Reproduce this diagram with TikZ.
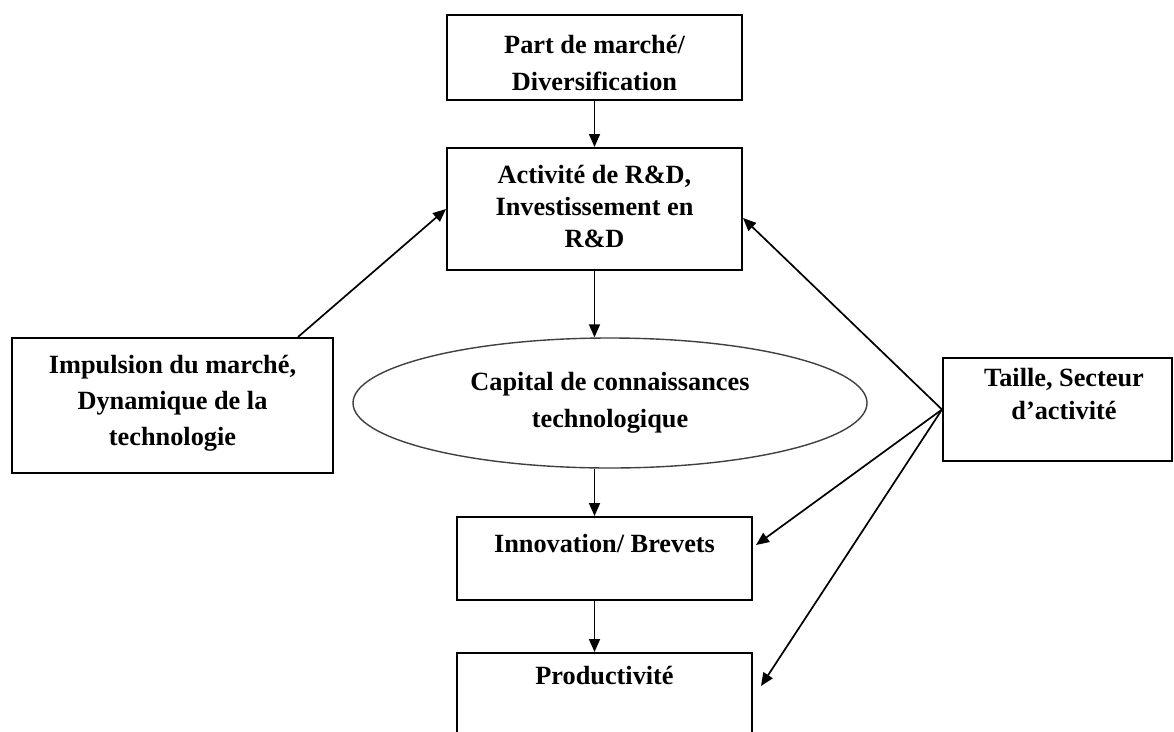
\documentclass[tikz,border=0pt]{standalone}
\usepackage{fontspec}
\setmainfont{Liberation Serif}
\usetikzlibrary{shapes.geometric,arrows.meta,calc}
\begin{document}
\begin{tikzpicture}[x=1pt,y=-1pt,
  box/.style={draw=black, line width=2pt, inner sep=0pt, align=center,
    font=\fontsize{26.3}{37}\selectfont\bfseries},
  ellbox/.style={ellipse, draw=black!75, line width=1.4pt, inner sep=0pt, align=center,
    font=\fontsize{26.3}{37}\selectfont\bfseries},
  conn/.style={line width=1.7pt, -{Triangle[length=13pt,width=11pt]}},
]
\useasboundingbox (0,0) rectangle (1174,731);
\fill[white] (0,0) rectangle (1174,731);
\begin{scope}
\clip (0,0) rectangle (1174,731);
\node[box, minimum width=295, minimum height=85] (pm) at (594.5,57.5)
  {\rule{0pt}{29pt}Part de marché/\\Diversification};
\node[box, minimum width=295, minimum height=122, font=\fontsize{26.3}{32}\selectfont\bfseries] (rd) at (594.5,209)
  {Activité de R\&D,\\Investissement en\\R\&D\rule[-5pt]{0pt}{5pt}};
\node[box, minimum width=321, minimum height=135, font=\fontsize{26.3}{36}\selectfont\bfseries] (imp) at (172.5,405.5)
  {Impulsion du marché,\\Dynamique de la\\technologie\rule[-11pt]{0pt}{11pt}};
\node[ellbox, minimum width=514, minimum height=130] (cap) at (610,403)
  {Capital de connaissances\\technologique};
\node[box, minimum width=229, minimum height=103, font=\fontsize{26.3}{33}\selectfont\bfseries] (ts) at (1057.5,409.5)
  {\hspace*{13pt}Taille, Secteur\\\hspace*{13pt}d’activité\rule[-30.5pt]{0pt}{30.5pt}};
\node[box, minimum width=295, minimum height=83] (inn) at (604.5,558.5)
  {Innovation/ Brevets\rule[-29.5pt]{0pt}{29.5pt}};
\node[box, minimum width=295, minimum height=100] (prod) at (604.5,703)
  {Productivité\rule[-54.5pt]{0pt}{54.5pt}};
\draw[conn] (pm.south) -- (rd.north);
\draw[conn] (rd.south) -- (rd.south |- cap.north);
\draw[conn] (rd.south |- cap.south) -- (rd.south |- inn.north);
\draw[conn] (rd.south |- inn.south) -- (rd.south |- prod.north);
\draw[conn] ([xshift=-36pt]imp.north east) -- (rd.west);
\draw[conn] (ts.west) -- ([yshift=-9pt]rd.east);
\draw[conn] (ts.west) -- ([xshift=3pt,yshift=13.5pt]inn.east);
\draw[conn] (ts.west) -- ([xshift=8pt,yshift=-34pt]prod.north east);
\end{scope}
\end{tikzpicture}
\end{document}
